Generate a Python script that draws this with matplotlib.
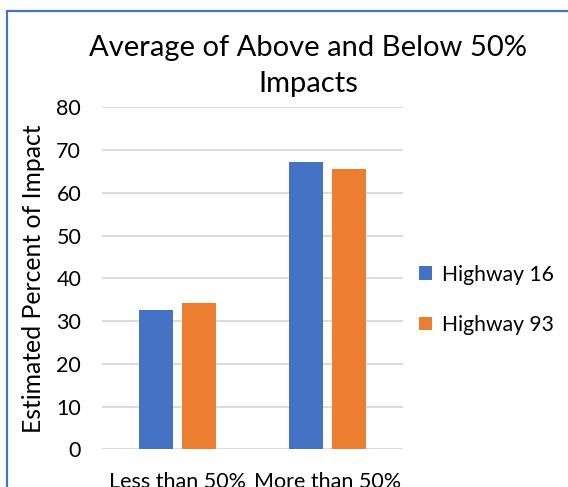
import numpy as np
import matplotlib.pyplot as plt
from matplotlib.patches import Rectangle

plt.rcParams['font.family'] = ['Lato', 'DejaVu Sans']

categories = ['Less than 50%', 'More than 50%']
highway_16 = [32.7, 67.1]
highway_93 = [34.3, 65.5]
series_names = ['Highway 16', 'Highway 93']
colors = ['#4472C4', '#ED7D31']
yticks = [0, 10, 20, 30, 40, 50, 60, 70, 80]

fig = plt.figure(figsize=(5.68, 4.87), dpi=100)
ax = fig.add_axes([102 / 568, 1 - 449.3 / 487, 301 / 568, (449.3 - 107.3) / 487])

x = np.arange(len(categories))
w = 0.226
off = 0.142
ax.bar(x - off, highway_16, w, color=colors[0], label=series_names[0], zorder=3)
ax.bar(x + off, highway_93, w, color=colors[1], label=series_names[1], zorder=3)

ax.set_xlim(-0.5, 1.5)
ax.set_ylim(0, 80)
ax.set_yticks(yticks)
ax.set_xticks(x)
ax.set_xticklabels(categories)
ax.yaxis.grid(True, color='#D9D9D9', linewidth=1.3, zorder=0)
ax.set_axisbelow(True)
for s in ax.spines.values():
    s.set_visible(False)
ax.tick_params(axis='both', length=0, labelsize=15.5, colors='black')
ax.tick_params(axis='y', pad=15)
ax.tick_params(axis='x', pad=16)

ax.set_ylabel('Estimated Percent of Impact', fontsize=17.8, labelpad=8)
fig.text(308 / 568, 1 - 66 / 487, 'Average of Above and Below 50%\nImpacts',
         ha='center', va='center', fontsize=21, linespacing=1.5)

ax.legend(loc='center left', bbox_to_anchor=(0.99, 0.437), frameon=False,
          fontsize=15.2, handlelength=0.6, handleheight=0.6, handletextpad=0.5,
          labelspacing=1.45)

# chart border (cropped at right and bottom)
fig.add_artist(Rectangle((6.5 / 568, -0.05), 1.2, 1 - 10.5 / 487 + 0.05,
                         transform=fig.transFigure, fill=False,
                         edgecolor='#4472C4', linewidth=1.6))

fig.savefig('out.png', dpi=100)
